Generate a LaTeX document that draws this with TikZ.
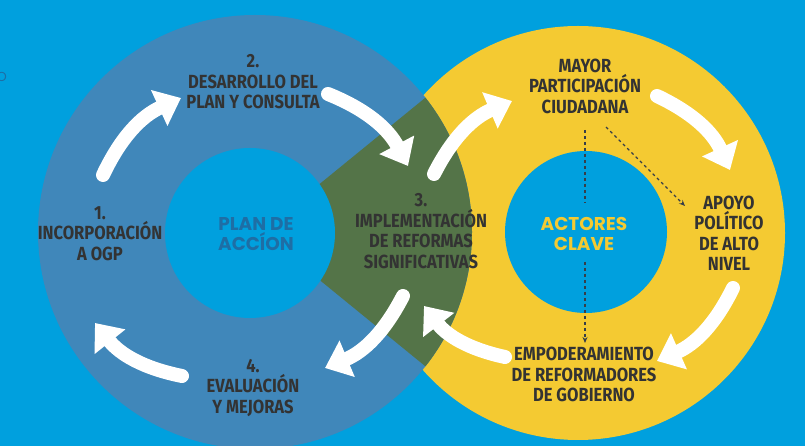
\documentclass[tikz,border=0pt]{standalone}
\usepackage{fontspec}
\setmainfont{Fira Sans}[FakeStretch=0.87]
\newfontfamily\widefont{Poppins}
\usetikzlibrary{arrows.meta}
\definecolor{bgblue}{RGB}{0,160,222}
\definecolor{steel}{RGB}{64,135,186}
\definecolor{olive}{RGB}{84,116,72}
\definecolor{sun}{RGB}{244,202,50}
\definecolor{ink}{RGB}{51,51,51}
\definecolor{navy}{RGB}{30,110,165}
\definecolor{dashcol}{RGB}{55,62,72}
\tikzset{
  lbl/.style={font=\bfseries\fontsize{19}{20.5}\selectfont, text=ink, align=center, inner sep=0pt},
  hub/.style={font=\widefont\bfseries\fontsize{18.5}{20.5}\selectfont, align=center, inner sep=0pt},
  warr/.style={draw=white, line width=14pt, line cap=round, -{Triangle[length=24pt,width=38pt]}},
  dashln/.style={draw=dashcol, line width=1.1pt, dash pattern=on 3pt off 3pt},
  dtip/.style={-{Stealth[length=6pt,width=5pt]}}
}
\begin{document}
\begin{tikzpicture}[x=1pt,y=1pt]
\fill[bgblue] (0,0) rectangle (805,446);
\useasboundingbox (0,0) rectangle (805,446);
% rings
\fill[sun] (578,213) circle[radius=207];
\fill[steel] (255,214) circle[radius=217];
\begin{scope}
  \clip (255,214) circle[radius=217];
  \fill[olive] (300,246) -- (490,401) -- (490,27) -- (300,182) -- cycle;
\end{scope}
\fill[bgblue] (250,213) circle[radius=85];
\fill[bgblue] (586,214) circle[radius=81];
% clipped letter at left edge
\node[anchor=east, text=navy, font=\widefont\fontsize{13}{13}\selectfont, inner sep=0pt] (edgeO) at (7,369) {O};
% labels
\node[lbl] (s2) at (253,364) {2.\\DESARROLLO DEL\\PLAN Y CONSULTA};
\node[lbl] (s1) at (100,212.5) {1.\\INCORPORACIÓN\\A OGP};
\node[lbl] (s3) at (421,215) {3.\\IMPLEMENTACIÓN\\DE REFORMAS\\SIGNIFICATIVAS};
\node[lbl] (s4) at (253,58) {4.\\EVALUACIÓN\\Y MEJORAS};
\node[lbl] (a1) at (585,360) {MAYOR\\PARTICIPACIÓN\\CIUDADANA};
\node[lbl] (a2) at (729,212.5) {APOYO\\POLÍTICO\\DE ALTO\\NIVEL};
\node[lbl] (a3) at (584,71.5) {EMPODERAMIENTO\\DE REFORMADORES\\DE GOBIERNO};
\node[hub, text=navy] (plan) at (256,212) {PLAN DE\\ACCÍON};
\node[hub, text=sun] (actores) at (584,212) {ACTORES\\CLAVE};
% arrow end points, left cycle
\coordinate (l1t) at (103,271); \coordinate (l1h) at (181,348);
\coordinate (l2t) at (328,352); \coordinate (l2h) at (408,280);
\coordinate (l3t) at (403,150); \coordinate (l3h) at (325,78);
\coordinate (l4t) at (182,70);  \coordinate (l4h) at (95,123);
% right cycle
\coordinate (r1t) at (434,272); \coordinate (r1h) at (512,345);
\coordinate (r2t) at (657,350); \coordinate (r2h) at (730,276);
\coordinate (r3t) at (733,158); \coordinate (r3h) at (657,85);
\coordinate (r4t) at (505,89);  \coordinate (r4h) at (424,140);
\foreach \a in {l1,l2,l3,l4,r1,r2,r3,r4}{
  \draw[warr] (\a t) to[bend left=20] (\a h);
}
% dashed connectors
\coordinate (v1) at (585,316);
\coordinate (v2) at (585,243);
\coordinate (v3) at (585,184);
\coordinate (v4) at (585,103);
\coordinate (d1) at (606,319);
\coordinate (d2) at (685,240);
\draw[dashln] (v1) -- (v2);
\draw[dashln, dtip] (v3) -- (v4);
\draw[dashln, dtip] (d1) -- (d2);
\end{tikzpicture}
\end{document}
